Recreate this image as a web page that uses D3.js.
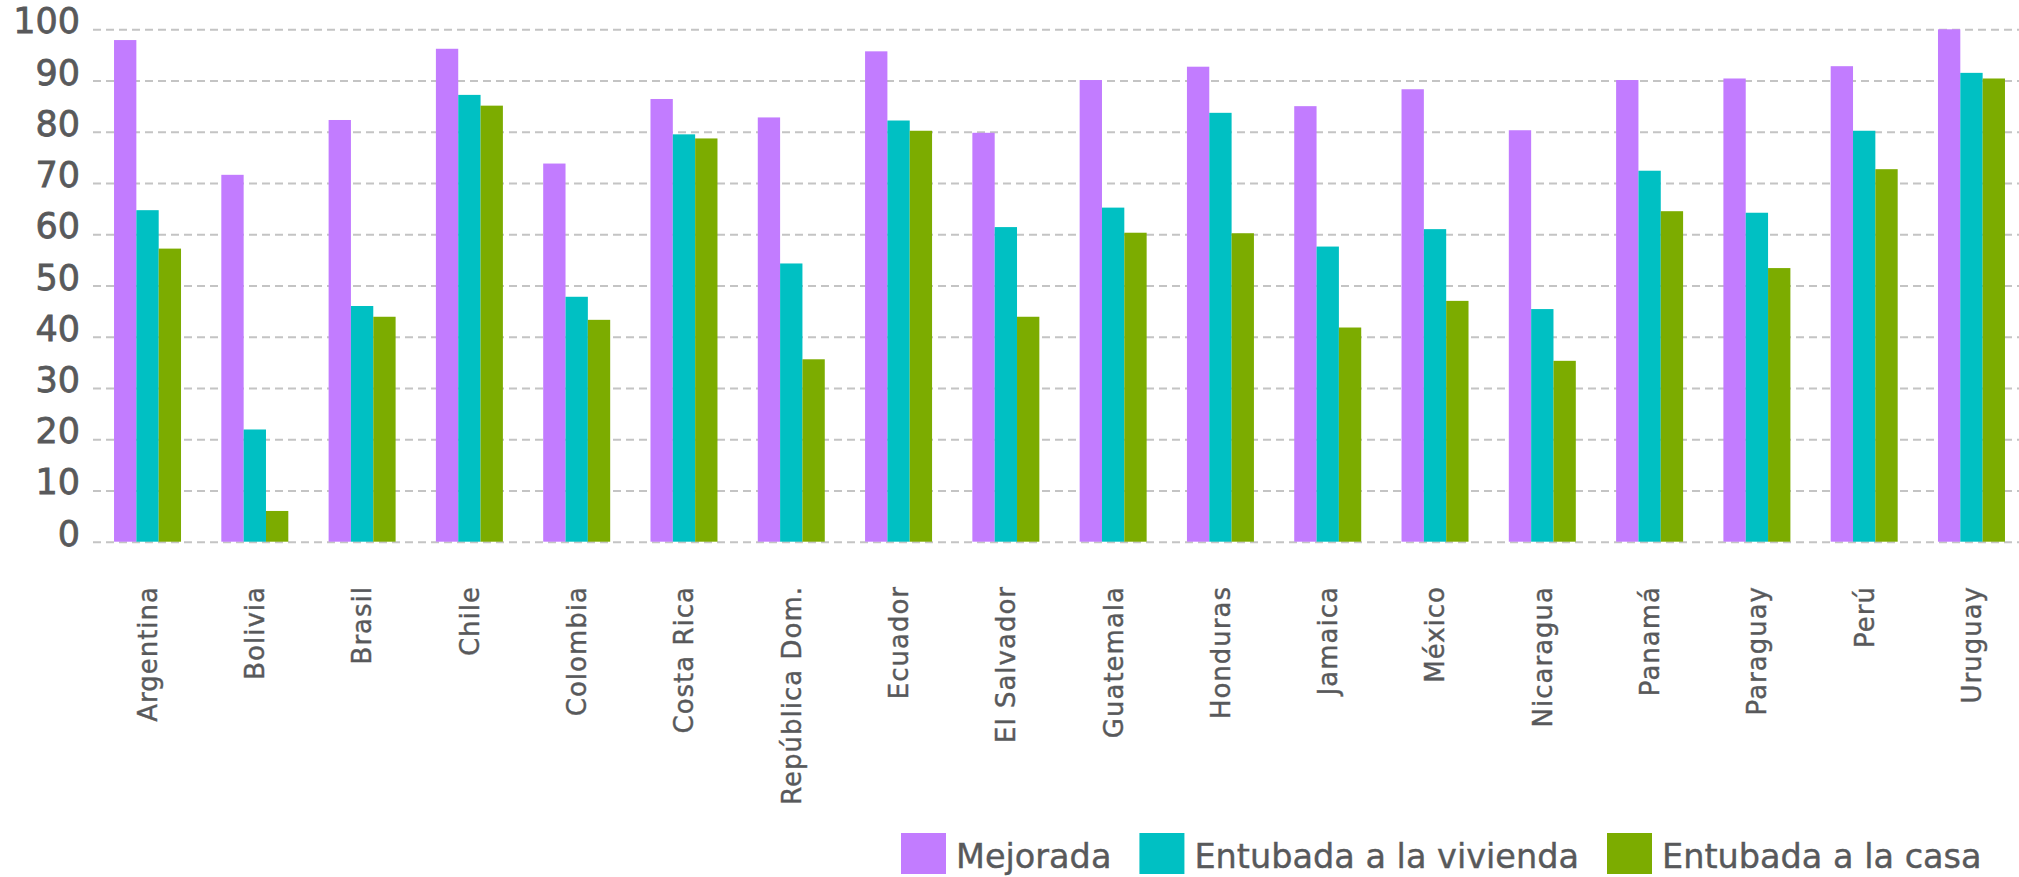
<!DOCTYPE html>
<html>
<head>
<meta charset="utf-8">
<script src="https://cdn.jsdelivr.net/npm/d3@7"></script>
<style>
  body { margin: 0; background: #fff; }
  text { font-family: "DejaVu Sans", sans-serif; fill: #58595b; }
  .grid line { stroke: #c4c4c4; stroke-width: 2; stroke-dasharray: 8,5; }
</style>
</head>
<body>
<svg width="2019" height="877"></svg>
<script>
  const countries = ['Argentina', 'Bolivia', 'Brasil', 'Chile', 'Colombia', 'Costa Rica',
    'República Dom.', 'Ecuador', 'El Salvador', 'Guatemala', 'Honduras', 'Jamaica',
    'México', 'Nicaragua', 'Panamá', 'Paraguay', 'Perú', 'Uruguay'];
  const seriesNames = ['Mejorada', 'Entubada a la vivienda', 'Entubada a la casa'];
  const mejorada = [97.9, 71.6, 82.3, 96.2, 73.8, 86.4, 82.8, 95.7, 79.8, 90.1, 92.7, 85.0, 88.3, 80.3, 90.1, 90.4, 92.8, 100];
  const entubadaVivienda = [64.7, 21.9, 46.0, 87.2, 47.8, 79.5, 54.3, 82.2, 61.4, 65.2, 83.7, 57.6, 61.0, 45.4, 72.4, 64.2, 80.2, 91.5];
  const entubadaCasa = [57.2, 6.0, 43.9, 85.1, 43.3, 78.7, 35.6, 80.2, 43.9, 60.3, 60.2, 41.8, 47.0, 35.3, 64.5, 53.4, 72.7, 90.4];
  const yTicks = [0, 10, 20, 30, 40, 50, 60, 70, 80, 90, 100];
  const colors = ['#c27cff', '#00c0c3', '#7cac00'];

  const svg = d3.select('svg');
  const width = +svg.attr('width');

  const values = [mejorada, entubadaVivienda, entubadaCasa];
  const data = countries.map((c, i) => ({
    country: c,
    vals: seriesNames.map((s, j) => ({ key: s, value: values[j][i] }))
  }));

  const gridLeft = 93;

  const yScale = d3.scaleLinear()
    .domain([0, 100])
    .range([541.7, 29.3]);

  const x0 = d3.scaleBand()
    .domain(countries)
    .range([gridLeft, 2026])
    .paddingInner(0.3756)
    .paddingOuter(0.196);

  const x1 = d3.scaleBand()
    .domain(seriesNames)
    .range([0, x0.bandwidth()]);

  const color = d3.scaleOrdinal().domain(seriesNames).range(colors);

  // grid + y labels
  const yAxis = d3.axisLeft(yScale)
    .tickValues(yTicks)
    .tickSize(-(width - gridLeft))
    .tickPadding(13);

  const yAxisG = svg.append('g')
    .attr('class', 'grid')
    .attr('transform', `translate(${gridLeft},0)`)
    .call(yAxis);
  yAxisG.select('.domain').remove();
  yAxisG.selectAll('text')
    .attr('dy', '0.1em')
    .style('font-size', '35px')
    .style('fill', '#58595b')
    .style('stroke', '#58595b')
    .style('stroke-width', '0.8px');

  // bars
  svg.append('g')
    .selectAll('g')
    .data(data)
    .join('g')
      .attr('transform', d => `translate(${x0(d.country)},0)`)
    .selectAll('rect')
    .data(d => d.vals)
    .join('rect')
      .attr('x', d => x1(d.key))
      .attr('y', d => yScale(d.value))
      .attr('width', x1.bandwidth())
      .attr('height', d => yScale(0) - yScale(d.value))
      .attr('fill', d => color(d.key));

  // x labels
  svg.append('g')
    .selectAll('text')
    .data(countries)
    .join('text')
      .attr('transform', d => `translate(${x0(d) + x0.bandwidth() / 2},586) rotate(-90)`)
      .attr('dy', '0.36em')
      .attr('text-anchor', 'end')
      .style('font-size', '26px')
      .style('letter-spacing', '1px')
      .style('stroke', '#58595b')
      .style('stroke-width', '0.4px')
      .text(d => d);

  // legend
  const legend = svg.append('g').attr('transform', 'translate(901,833)');
  let lx = 0;
  seriesNames.forEach(s => {
    legend.append('rect')
      .attr('x', lx)
      .attr('y', 0)
      .attr('width', 45)
      .attr('height', 41)
      .attr('fill', color(s));
    const t = legend.append('text')
      .attr('x', lx + 55)
      .attr('y', 35)
      .style('font-size', '33.5px')
      .style('stroke', '#58595b')
      .style('stroke-width', '0.4px')
      .text(s);
    lx += 55 + t.node().getComputedTextLength() + 28;
  });
</script>
</body>
</html>
